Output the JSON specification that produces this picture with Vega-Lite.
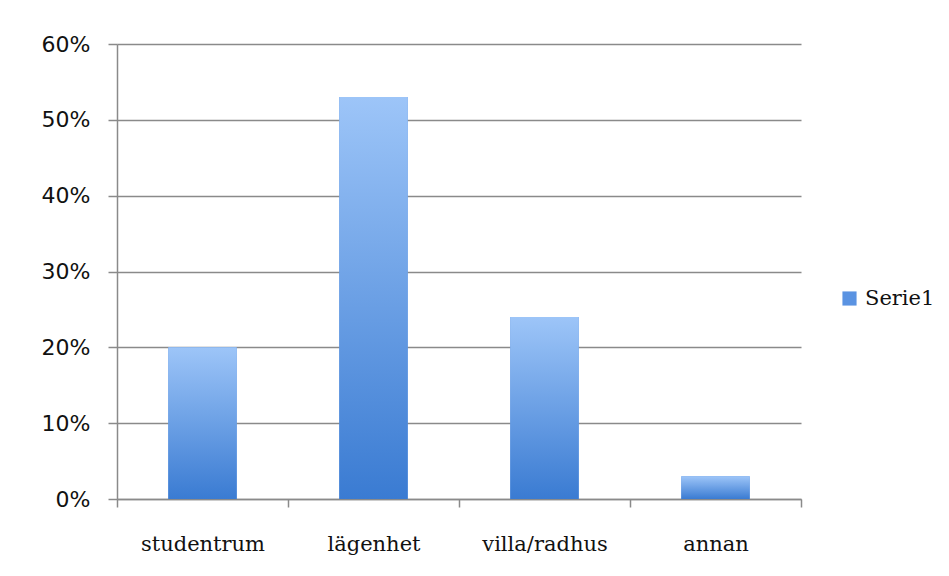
{
  "$schema": "https://vega.github.io/schema/vega-lite/v6.json",
  "width": 684,
  "height": 455,
  "autosize": {"type": "none"},
  "padding": {"left": 117, "top": 44, "right": 148, "bottom": 77},
  "background": "white",
  "config": {"view": {"stroke": null}},
  "data": {
    "values": [
      {"category": "studentrum", "value": 0.20, "series": "Serie1"},
      {"category": "lägenhet", "value": 0.53, "series": "Serie1"},
      {"category": "villa/radhus", "value": 0.24, "series": "Serie1"},
      {"category": "annan", "value": 0.03, "series": "Serie1"}
    ]
  },
  "encoding": {
    "x": {
      "field": "category",
      "type": "nominal",
      "sort": null,
      "scale": {"paddingInner": 0, "paddingOuter": 0},
      "axis": {
        "title": null,
        "labelAngle": 0,
        "labelFont": "DejaVu Serif",
        "labelFontSize": 21,
        "labelColor": "#111111",
        "labelPadding": 26,
        "tickBand": "extent",
        "tickColor": "#8a8a8a",
        "tickWidth": 1.5,
        "tickSize": 8,
        "domainColor": "#8a8a8a",
        "domainWidth": 1.5,
        "grid": false
      }
    },
    "y": {
      "field": "value",
      "type": "quantitative",
      "scale": {"domain": [0, 0.6], "nice": false},
      "axis": {
        "title": null,
        "format": ".0%",
        "values": [0, 0.1, 0.2, 0.3, 0.4, 0.5, 0.6],
        "labelFont": "DejaVu Sans",
        "labelFontSize": 22,
        "labelColor": "#111111",
        "labelPadding": 18,
        "tickColor": "#8a8a8a",
        "tickWidth": 1.5,
        "tickSize": 9,
        "domainColor": "#8a8a8a",
        "domainWidth": 1.5,
        "grid": true,
        "gridColor": "#8a8a8a",
        "gridWidth": 1.5,
        "gridOpacity": 1
      }
    }
  },
  "layer": [
    {
      "mark": {"type": "bar", "width": {"band": 0.4}},
      "encoding": {
        "color": {
          "field": "series",
          "type": "nominal",
          "scale": {"range": ["#5a93e2"]},
          "legend": {
            "title": null,
            "orient": "none",
            "legendX": 722,
            "legendY": 244,
            "symbolType": "square",
            "symbolSize": 200,
            "symbolOpacity": 1,
            "labelFont": "DejaVu Serif",
            "labelFontSize": 21,
            "labelColor": "#111111",
            "labelOffset": 5
          }
        }
      }
    },
    {
      "mark": {
        "type": "bar",
        "width": {"band": 0.4},
        "color": {
          "gradient": "linear",
          "x1": 0, "y1": 0, "x2": 0, "y2": 1,
          "stops": [
            {"offset": 0, "color": "#9dc5f8"},
            {"offset": 1, "color": "#3a7bd2"}
          ]
        }
      }
    }
  ]
}
